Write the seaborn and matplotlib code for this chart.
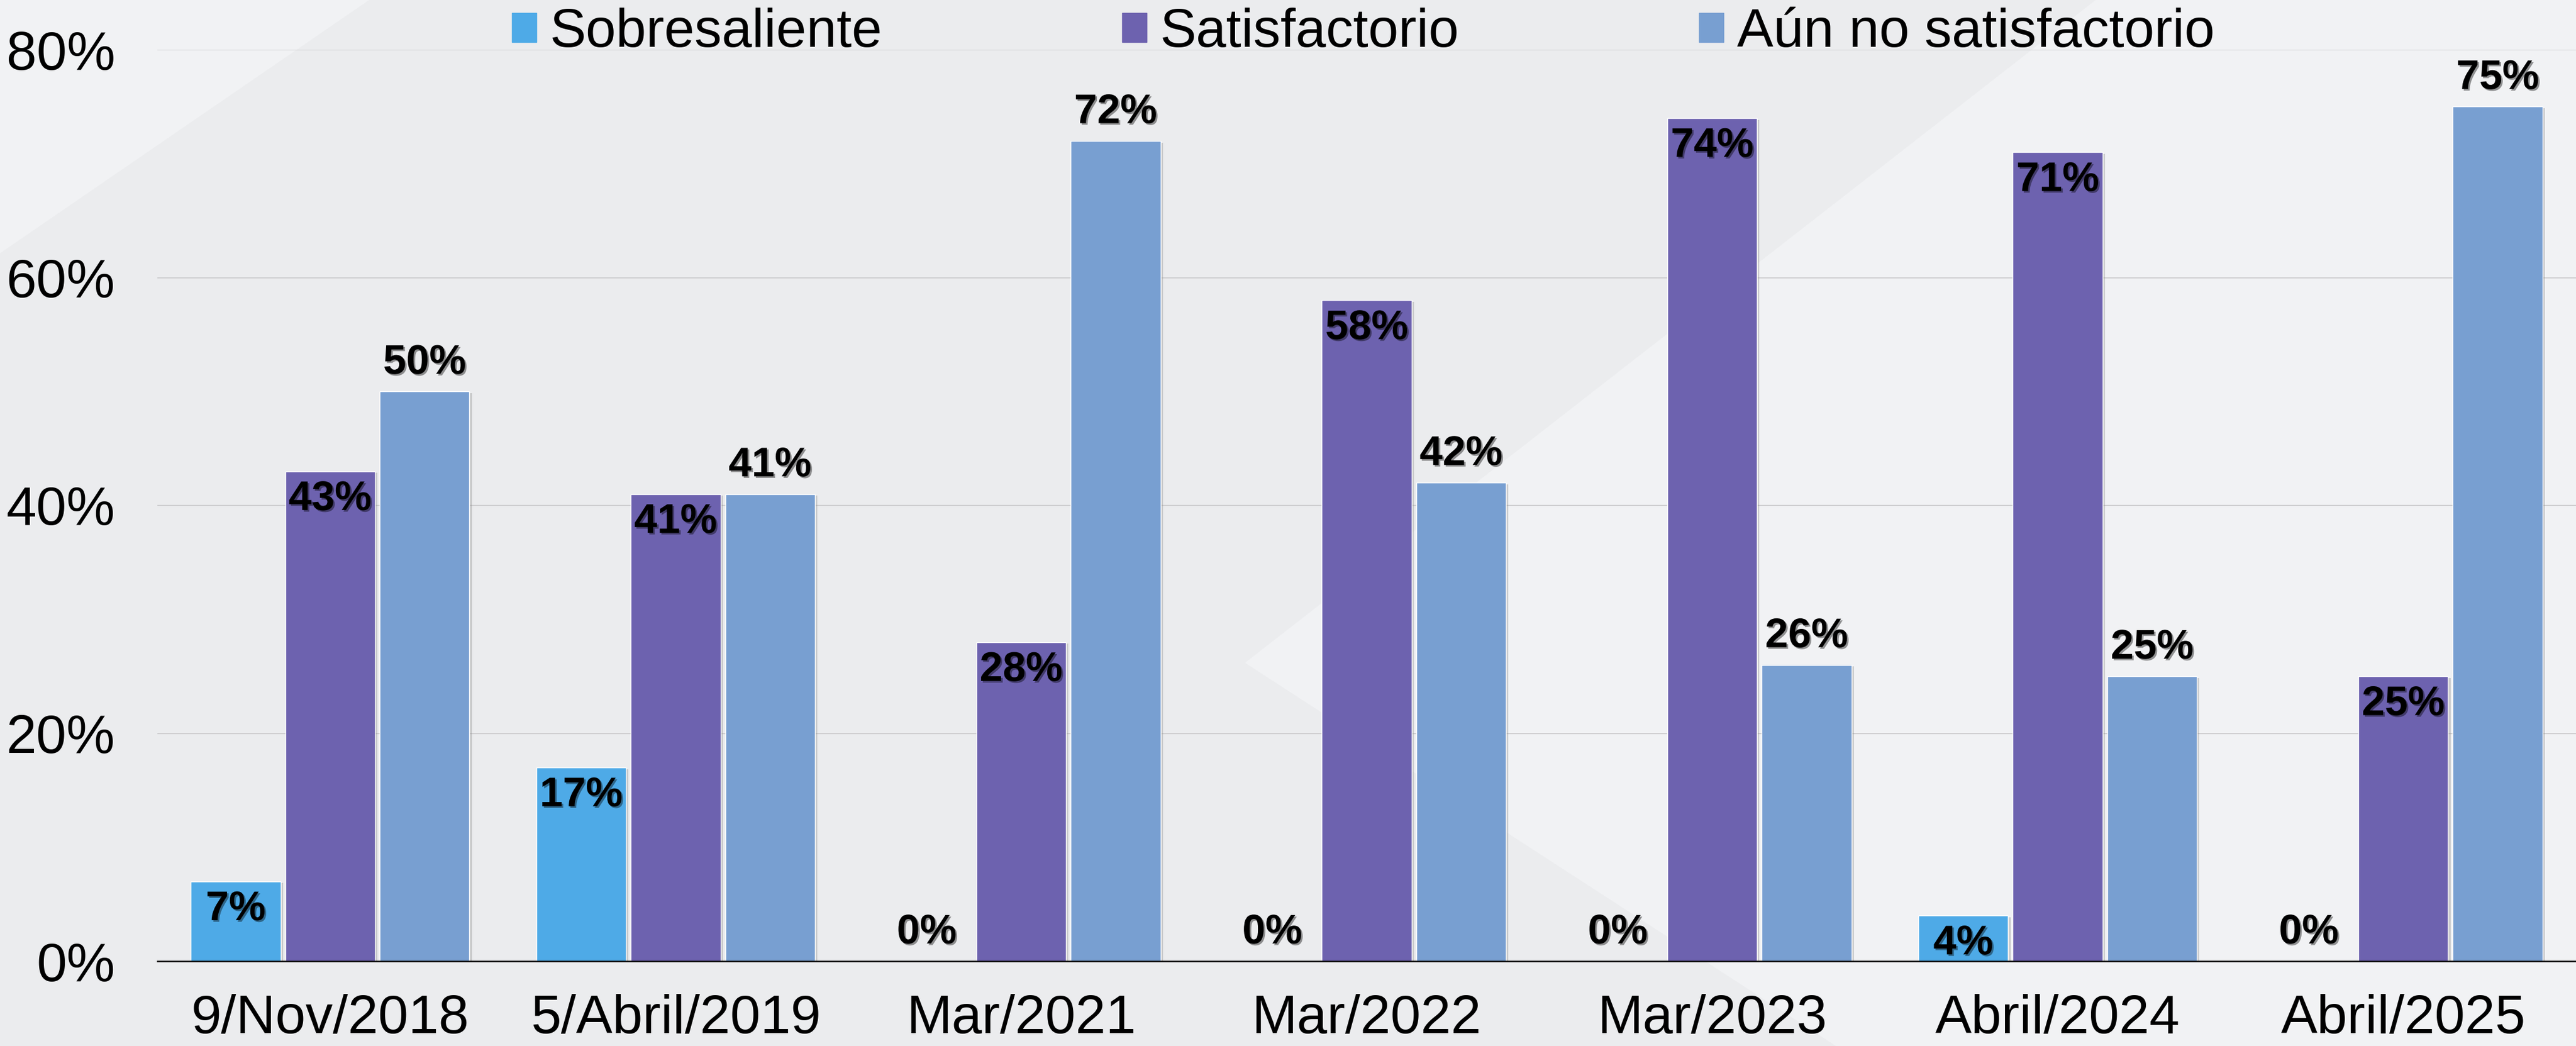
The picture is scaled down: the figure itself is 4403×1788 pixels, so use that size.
import matplotlib
matplotlib.use('Agg')
import matplotlib.pyplot as plt
import matplotlib.patheffects as pe
from matplotlib.patches import Polygon
import pandas as pd
import seaborn as sns

fechas = ['9/Nov/2018', '5/Abril/2019', 'Mar/2021', 'Mar/2022', 'Mar/2023', 'Abril/2024', 'Abril/2025']
niveles = ['Sobresaliente', 'Satisfactorio', 'Aún no satisfactorio']
sobresaliente = [7, 17, 0, 0, 0, 4, 0]
satisfactorio = [43, 41, 28, 58, 74, 71, 25]
no_satisfactorio = [50, 41, 72, 42, 26, 25, 75]
colores = ['#4EAAE7', '#6D62AF', '#789FD1']

df = pd.DataFrame({
    'Fecha': fechas * 3,
    'Nivel': [n for n in niveles for _ in fechas],
    'Pct': sobresaliente + satisfactorio + no_satisfactorio,
})

sns.set_style('white')
plt.rcParams['font.family'] = ['Liberation Sans', 'DejaVu Sans']
plt.rcParams['text.color'] = 'black'
plt.rcParams['xtick.color'] = 'black'
plt.rcParams['ytick.color'] = 'black'

W, H = 4403, 1788
fig = plt.figure(figsize=(W / 100, H / 100), dpi=100, facecolor='#EBECEE')

# fondo decorativo de la diapositiva
def fpoly(pts, color):
    fig.add_artist(Polygon([(x / W, 1 - y / H) for x, y in pts], closed=True,
                           transform=fig.transFigure, facecolor=color,
                           edgecolor='none', zorder=-10))

fpoly([(0, 0), (631, 0), (0, 433)], '#F1F2F4')
fpoly([(2128, 1133), (3582, 0), (W, 0), (W, H), (3138, H)], '#F1F2F4')

ax = fig.add_axes([269 / W, 1 - 1643 / H, 1 - 269 / W, (1643 - 85) / H])
ax.set_facecolor('none')

sns.barplot(data=df, x='Fecha', y='Pct', hue='Nivel', hue_order=niveles,
            palette=colores, width=0.82, gap=0.05, saturation=1,
            legend=False, ax=ax, zorder=3)

for p in ax.patches:
    p.set_path_effects([pe.SimplePatchShadow(offset=(3, -2), shadow_rgbFace='#888888', alpha=0.35),
                        pe.Normal()])

ax.set_ylim(0, 80)
ax.set_xlim(-0.5, 6.5)
ax.set_yticks([0, 20, 40, 60, 80])
ax.set_yticklabels([f'{v}%' for v in [0, 20, 40, 60, 80]])
ax.yaxis.grid(True, color='#C9C9CB', linewidth=1.2, zorder=0)
ax.set_axisbelow(True)
for s in ['top', 'right', 'left']:
    ax.spines[s].set_visible(False)
ax.spines['bottom'].set_color('black')
ax.spines['bottom'].set_linewidth(1.8)
ax.spines['bottom'].set_zorder(5)
ax.tick_params(axis='y', length=0, pad=52, labelsize=67, labelcolor='black')
ax.tick_params(axis='x', length=0, pad=40, labelsize=67, labelcolor='black')
ax.set_xlabel('')
ax.set_ylabel('')

for i, cont in enumerate(ax.containers):
    for p in cont:
        h = p.get_height()
        xc = p.get_x() + p.get_width() / 2
        if i < 2 and h > 0:
            off, va = -11, 'top'
        else:
            off, va = 11, 'bottom'
        t = ax.annotate(f'{h:.0f}%', xy=(xc, h), xytext=(0, off), textcoords='offset points',
                        ha='center', va=va, fontsize=51, fontweight='bold', color='black', zorder=6)
        t.set_path_effects([pe.withSimplePatchShadow(offset=(2, -2), shadow_rgbFace='black', alpha=0.4)])

handles = [plt.Rectangle((0, 0), 1, 1, color=c) for c in colores]
fig.legend(handles, niveles, loc='center', bbox_to_anchor=(2330 / W, 1 - 56 / H),
           ncol=3, frameon=False, fontsize=67, handlelength=0.45, handleheight=0.45,
           handletextpad=0.25, columnspacing=4.4)

fig.savefig('out.png', dpi=100, facecolor=fig.get_facecolor())
